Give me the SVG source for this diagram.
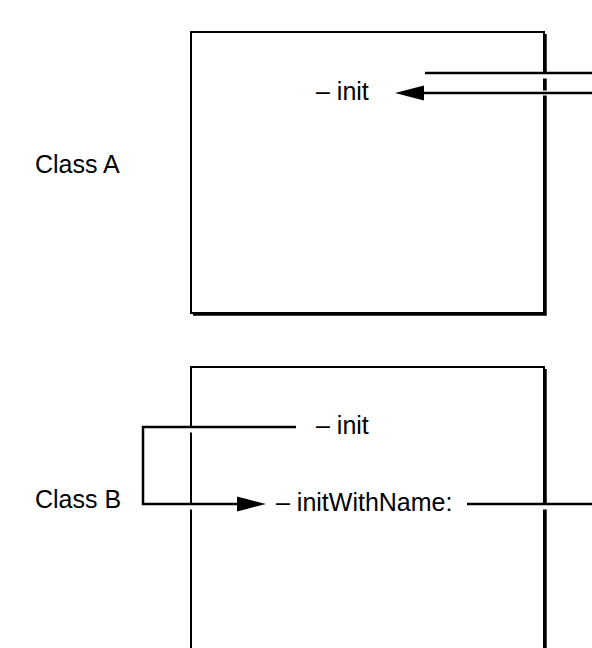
<svg xmlns="http://www.w3.org/2000/svg" width="592" height="648" viewBox="0 0 592 648">
<style>
  text { font-family: "Liberation Sans", Arial, Helvetica, sans-serif; font-size: 25px; fill: #000; }
  .box { fill: #fff; stroke: #000; stroke-width: 2; }
  .shadow { fill: none; stroke: #000; stroke-width: 2.5; }
  .halo { fill: none; stroke: #fff; stroke-width: 5; }
  .line { fill: none; stroke: #000; stroke-width: 2.5; }
  .head { fill: #000; stroke: none; }
</style>
<rect width="592" height="648" fill="#fff"/>
<g id="classA">
  <rect class="box" x="191" y="32" width="353" height="281"/>
  <path class="shadow" d="M193,314.5 H545.5 V34"/>
  <text x="35" y="173">Class A</text>
  <text id="a-init" x="316" y="100">– init</text>
</g>
<g id="classB">
  <path class="box" d="M191,650 V367 H544 V650"/>
  <path class="shadow" d="M545.5,369 V650"/>
  <text x="35" y="508">Class B</text>
  <text id="b-init" x="316" y="434">– init</text>
  <text id="b-initWithName" x="276" y="511">– initWithName:</text>
</g>
<g id="connectors">
  <path class="halo" d="M425,76 H592"/>
  <path class="line" d="M425,73 H592"/>
  <path class="halo" d="M420,93 H592"/>
  <path class="line" d="M420,93 H592"/>
  <polygon class="head" points="395,93 424,85.5 424,100.5"/>
  <path class="halo" d="M143,430 H296 M143,507 H238"/>
  <path class="line" d="M296,427 H143 V504 H240"/>
  <polygon class="head" points="266,504 237,496.5 237,511.5"/>
  <path class="halo" d="M467,507 H592"/>
  <path class="line" d="M467,504 H592"/>
</g>
</svg>
